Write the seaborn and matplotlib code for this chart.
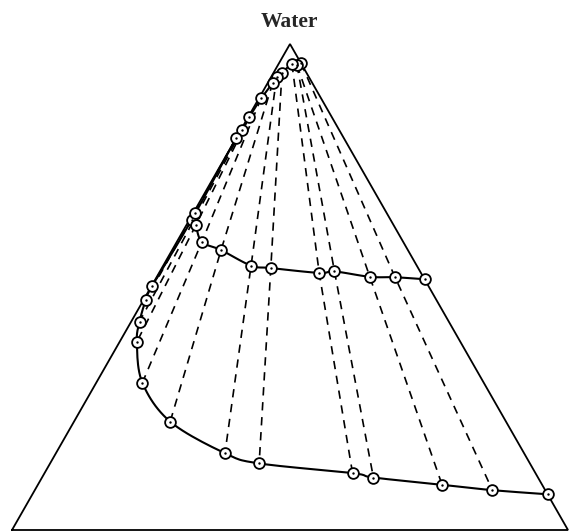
import matplotlib
matplotlib.use("Agg")
import matplotlib.pyplot as plt
import numpy as np
import pandas as pd
import seaborn as sns

sns.set_theme(style="white")
plt.rcParams["font.family"] = ["Liberation Serif", "DejaVu Serif"]

# Outer binodal: water % and right-component % (left component makes up the rest)
binodal_water = [96.0, 95.7, 95.9, 94.1, 93.2, 92.0, 88.8, 84.9, 82.3, 80.6,
                 63.8, 50.3, 47.3, 42.9, 38.7, 30.3, 22.3, 15.8, 13.7,
                 11.7, 10.8, 9.3, 8.2, 7.35]
binodal_right = [4.0, 3.4, 2.4, 1.5, 1.0, 0.9, 0.4, 0.2, 0.2, 0.0,
                 0.4, 0.1, 0.4, 1.5, 3.1, 8.3, 17.3, 30.4, 37.6,
                 55.4, 59.6, 72.7, 82.3, 92.65]

# Inner curve
inner_water = [65.2, 62.8, 59.3, 57.6, 54.4, 53.9, 52.9, 53.2, 52.1, 52.0, 51.6]
inner_right = [0.4, 1.7, 4.5, 8.8, 15.8, 19.6, 28.8, 31.4, 38.3, 42.9, 48.4]

# Tie lines: (index on binodal upper branch, index on inner curve, index on binodal lower branch)
tie_top = [7, 6, 5, 4, 3, 2, 1, 1, 0]
tie_mid = [1, 2, 3, 4, 5, 6, 7, 8, 9]
tie_bot = [14, 15, 16, 17, 18, 19, 20, 21, 22]

# Short tie lines close to the left side
edge_tie_top = [8, 9, 10]
edge_tie_bot = [13, 12, 11]


def to_xy(water, right):
    w = np.asarray(water, float) / 100.0
    r = np.asarray(right, float) / 100.0
    return r + w / 2.0, w


def smooth(x, y, n=12):
    """Catmull-Rom path through the given vertices."""
    p = np.column_stack([x, y])
    p = np.vstack([p[0], p, p[-1]])
    out = []
    t = np.linspace(0, 1, n, endpoint=False)[:, None]
    for i in range(1, len(p) - 2):
        p0, p1, p2, p3 = p[i - 1], p[i], p[i + 1], p[i + 2]
        seg = 0.5 * ((2 * p1) + (-p0 + p2) * t + (2 * p0 - 5 * p1 + 4 * p2 - p3) * t ** 2
                     + (-p0 + 3 * p1 - 3 * p2 + p3) * t ** 3)
        out.append(seg)
    out.append(p[-2][None, :])
    out = np.vstack(out)
    return out[:, 0], out[:, 1]


W, H = 571, 532
fig = plt.figure(figsize=(W / 100, H / 100), dpi=100)
x0, x1, yb, yt = 12, 568, 530, 44
ax = fig.add_axes([x0 / W, (H - yb) / H, (x1 - x0) / W, (yb - yt) / H])
ax.set_xlim(0, 1)
ax.set_ylim(0, 1)
ax.axis("off")

# Triangle frame
ax.plot([0, 1, 0.5, 0], [0, 0, 1, 0], color="black", lw=1.3, clip_on=False,
        solid_joinstyle="miter")

bx, by = to_xy(binodal_water, binodal_right)
ix, iy = to_xy(inner_water, inner_right)

dash_kw = dict(color="black", lw=1.2, dashes=(5, 4), clip_on=False)
for t, m, b in zip(tie_top, tie_mid, tie_bot):
    ax.plot([bx[t], ix[m], bx[b]], [by[t], iy[m], by[b]], **dash_kw)
for t, b in zip(edge_tie_top, edge_tie_bot):
    ax.plot([bx[t], bx[b]], [by[t], by[b]], **dash_kw)

sbx, sby = smooth(bx, by)
six, siy = smooth(ix, iy)
sns.lineplot(x=sbx, y=sby, sort=False, estimator=None, color="black",
             lw=1.5, ax=ax, clip_on=False)
sns.lineplot(x=six, y=siy, sort=False, estimator=None, color="black",
             lw=1.5, ax=ax, clip_on=False)

pts = pd.DataFrame({"x": np.concatenate([bx, ix]), "y": np.concatenate([by, iy])})
sns.scatterplot(data=pts, x="x", y="y", s=60, color="white", edgecolor="black",
                linewidth=1.3, ax=ax, zorder=5, clip_on=False)
sns.scatterplot(data=pts, x="x", y="y", s=3, color="black", edgecolor="black",
                linewidth=0, ax=ax, zorder=6, clip_on=False)

ax.set_xlabel("")
ax.set_ylabel("")
fig.text(289 / W, 1 - 22 / H, "Water", ha="center", va="center",
         fontsize=15.5, fontweight="bold")

fig.savefig("out.png", dpi=100)
